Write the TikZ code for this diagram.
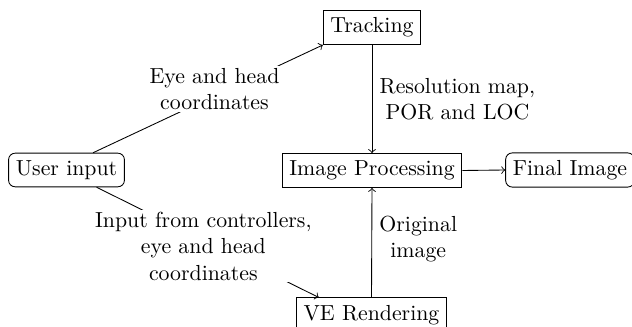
\documentclass[tikz,border=0pt]{standalone}
\usetikzlibrary{calc}
\begin{document}
\begin{tikzpicture}[x=0.4587pt,y=-0.4587pt,
  box/.style={draw, rectangle, inner sep=3.33pt},
  rbox/.style={draw, rectangle, rounded corners=3pt, inner sep=3.33pt},
  lbl/.style={align=center, fill=white, inner sep=1pt},
  conn/.style={->}]
\useasboundingbox (0,0) rectangle (632,327);
\node[box] (track) at (372,27.5) {Tracking};
\node[rbox] (user) at (66.5,170) {User input};
\node[box] (proc) at (372,170.5) {Image Processing};
\node[rbox] (final) at (570,170) {Final Image};
\node[box, minimum width=68pt] (ve) at (371.5,315) {VE Rendering};
\draw[conn] ([xshift=12.2pt]user.north) -- node[lbl, midway, xshift=3pt, yshift=4.6pt] {Eye and head\\coordinates} (track.south west);
\draw[conn] ([xshift=13.8pt]user.south) -- node[lbl, midway, xshift=-2pt, yshift=-1.8pt] {Input from controllers,\\eye and head\\coordinates} ([xshift=10.5pt]ve.north west);
\draw[conn] (track.south) -- node[midway, right, align=center] {Resolution map,\\POR and LOC} (proc.north);
\draw[conn] (ve.north) -- node[midway, right, align=center, yshift=1.5pt] {Original\\image} (proc.south);
\draw[conn] (proc.east) -- (final.west);
\end{tikzpicture}
\end{document}
